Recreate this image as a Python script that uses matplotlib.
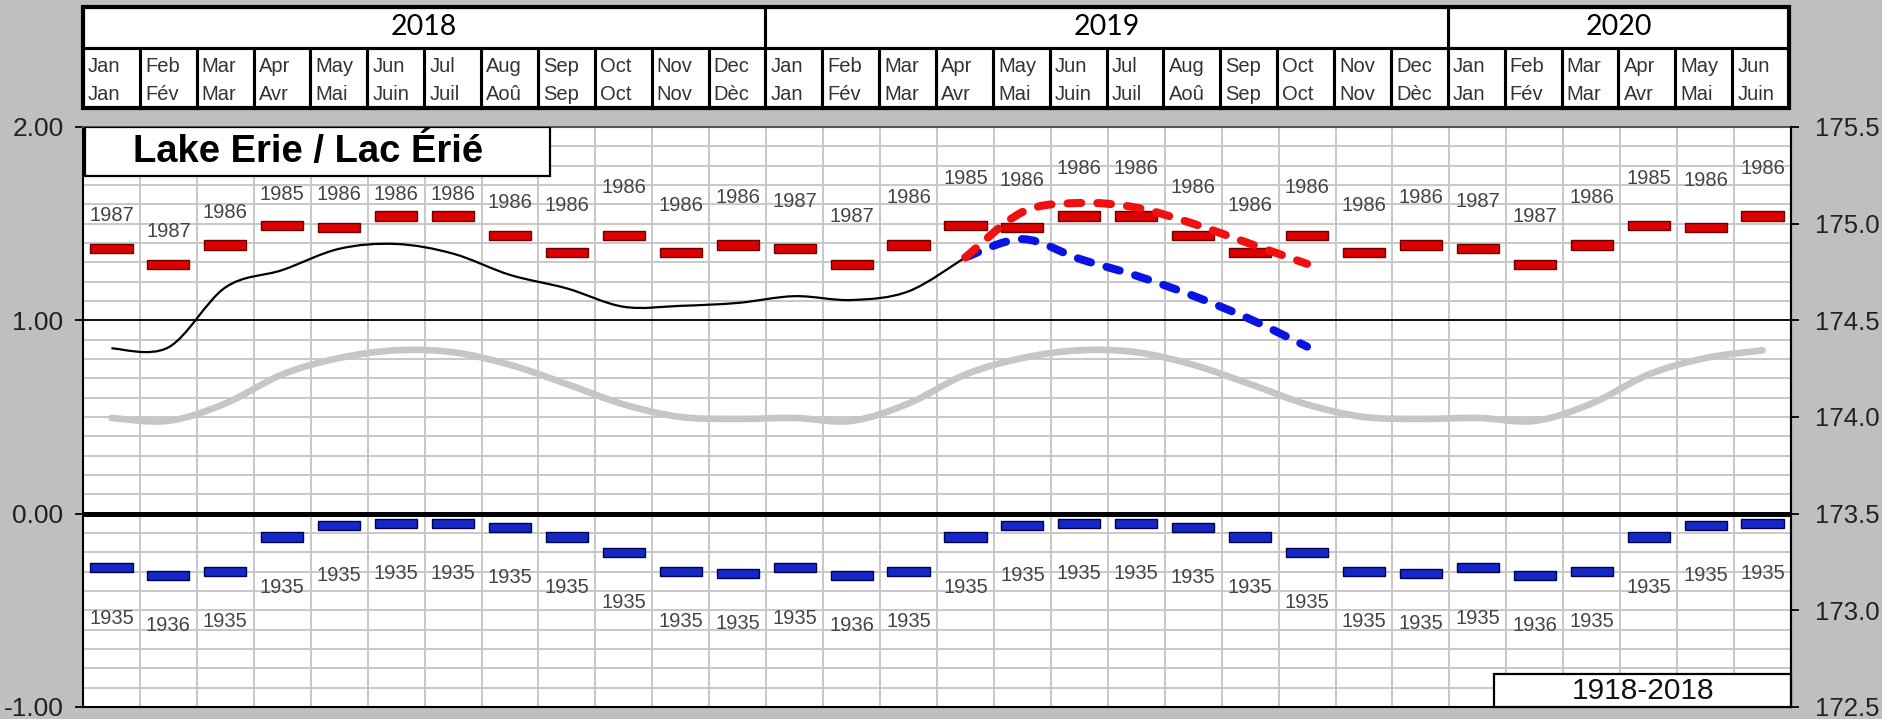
import matplotlib.pyplot as plt
import numpy as np
from matplotlib.path import Path
from matplotlib.patches import PathPatch, Rectangle

plt.rcParams['font.family'] = ['Liberation Sans', 'DejaVu Sans']

months_en = ['Jan', 'Feb', 'Mar', 'Apr', 'May', 'Jun', 'Jul', 'Aug', 'Sep', 'Oct', 'Nov', 'Dec']
months_fr = ['Jan', 'Fév', 'Mar', 'Avr', 'Mai', 'Juin', 'Juil', 'Aoû', 'Sep', 'Oct', 'Nov', 'Dèc']
years = ['2018', '2019', '2020']
year_months = [12, 12, 6]

# period of record 1918-2018, metres relative to chart datum
max_level = [1.37, 1.29, 1.39, 1.49, 1.48, 1.54, 1.54, 1.44, 1.35, 1.44, 1.35, 1.39]
max_year = [1987, 1987, 1986, 1985, 1986, 1986, 1986, 1986, 1986, 1986, 1986, 1986]
min_level = [-0.28, -0.32, -0.30, -0.12, -0.06, -0.05, -0.05, -0.07, -0.12, -0.20, -0.30, -0.31]
min_year = [1935, 1936, 1935, 1935, 1935, 1935, 1935, 1935, 1935, 1935, 1935, 1935]
avg_level = [0.495, 0.48, 0.57, 0.72, 0.805, 0.845, 0.835, 0.77, 0.67, 0.565, 0.50, 0.49]

# recorded monthly levels, Jan 2018 - Apr 2019
recorded = [0.855, 0.86, 1.17, 1.26, 1.37, 1.395, 1.345, 1.235, 1.165, 1.07, 1.075,
            1.09, 1.125, 1.105, 1.15, 1.326]
# forecast range, Apr 2019 - Oct 2019
fc_high = [1.326, 1.56, 1.607, 1.583, 1.50, 1.396, 1.292]
fc_low = [1.326, 1.42, 1.318, 1.231, 1.127, 1.006, 0.864]

n = sum(year_months)
xc = np.arange(n) + 0.5
mi = np.arange(n) % 12


def smooth_path(xs, ys):
    # excel-like smoothed line: catmull-rom segments as cubic beziers
    pts = np.column_stack([xs, ys])
    ext = np.vstack([pts[0], pts, pts[-1]])
    verts = [pts[0]]
    codes = [Path.MOVETO]
    for i in range(len(pts) - 1):
        p0, p1, p2, p3 = ext[i], ext[i + 1], ext[i + 2], ext[i + 3]
        verts += [p1 + (p2 - p0) / 6, p2 - (p3 - p1) / 6, p2]
        codes += [Path.CURVE4] * 3
    return Path(verts, codes)


W, H = 1883, 719
fig = plt.figure(figsize=(W / 100, H / 100), dpi=100, facecolor='#bfbfbf')

L, R, T, B = 83, 1791, 127, 707
ax = fig.add_axes([L / W, 1 - B / H, (R - L) / W, (B - T) / H])
ax.set_xlim(0, n)
ax.set_ylim(-1, 2)
ax.set_facecolor('white')
ax.set_axisbelow(True)

ax.set_xticks(np.arange(n + 1))
ax.set_xticklabels([])
ax.tick_params(axis='x', length=0)
ax.set_yticks([-1, 0, 1, 2])
ax.set_yticklabels(['-1.00', '0.00', '1.00', '2.00'])
ax.set_yticks(np.arange(-10, 21) / 10, minor=True)
ax.tick_params(axis='y', which='major', direction='out', length=6, width=1.3,
               labelsize=19, pad=8, labelcolor='#222222')
ax.tick_params(axis='y', which='minor', length=0)
ax.grid(True, which='both', color='#c8c8c8', lw=1.4)
for s in ['left', 'right', 'bottom']:
    ax.spines[s].set_color('black')
    ax.spines[s].set_linewidth(1.5)
ax.spines['top'].set_color('#555555')
ax.spines['top'].set_linewidth(1.5)

ax.axhline(0, color='black', lw=3.6, zorder=2)
ax.axhline(1, color='black', lw=1.3, zorder=2)

ax2 = ax.twinx()
ax2.set_ylim(172.5, 175.5)
ax2.set_yticks(np.arange(172.5, 175.51, 0.5))
ax2.set_yticklabels(['%.1f' % v for v in np.arange(172.5, 175.51, 0.5)])
ax2.tick_params(axis='y', direction='out', length=6, width=1.3, labelsize=18.5,
                pad=11, labelcolor='#222222')
ax2.spines['right'].set_linewidth(1.5)
for s in ['left', 'top', 'bottom']:
    ax2.spines[s].set_visible(False)

# long-term average
ax.add_patch(PathPatch(smooth_path(xc, np.array(avg_level)[mi]), fill=False,
                       edgecolor='#c6c6c6', lw=4.8, capstyle='round', zorder=3))

# extremes
bar_h = 0.048
hi = np.array(max_level)[mi]
lo = np.array(min_level)[mi]
ax.bar(xc, bar_h, bottom=hi - bar_h / 2, width=0.74, color='#dc0000',
       edgecolor='#6a0000', lw=1.0, zorder=4)
ax.bar(xc, bar_h, bottom=lo - bar_h / 2, width=0.74, color='#1428c8',
       edgecolor='#00004a', lw=1.0, zorder=4)

title_right = 8.2
for i in range(n):
    if xc[i] < title_right:
        ty = min(hi[i] + 0.17, 1.65)
    else:
        ty = hi[i] + 0.245
    ax.text(xc[i], ty, str(max_year[mi[i]]), ha='center', va='center',
            fontsize=14.5, color='#444444', zorder=6)
    ax.text(xc[i], lo[i] - 0.26, str(min_year[mi[i]]), ha='center', va='center',
            fontsize=14.5, color='#444444', zorder=6)

# recorded and forecast
ax.add_patch(PathPatch(smooth_path(xc[:len(recorded)], recorded), fill=False,
                       edgecolor='black', lw=1.6, zorder=5))
x_fc = xc[len(recorded) - 1:len(recorded) - 1 + len(fc_high)]
ax.add_patch(PathPatch(smooth_path(x_fc, fc_low), fill=False, edgecolor='#0a14e0',
                       lw=5.8, linestyle=(0, (1.7, 2.0)), capstyle='round', zorder=5))
ax.add_patch(PathPatch(smooth_path(x_fc, fc_high), fill=False, edgecolor='#f01010',
                       lw=5.8, linestyle=(0, (1.7, 2.0)), capstyle='round', zorder=5))

# title box
ax.add_patch(Rectangle((0.03, 1.745), title_right - 0.03, 0.255, facecolor='white',
                       edgecolor='black', lw=1.6, zorder=7))
ax.text(3.95, 1.872, 'Lake Erie / Lac Érié', ha='center', va='center',
        fontsize=27.5, fontweight='bold', color='black', zorder=8)

# period box
ax.add_patch(Rectangle((24.78, -1.0), n - 24.78, 0.17, facecolor='white',
                       edgecolor='black', lw=1.6, zorder=7, clip_on=False))
ax.text(27.4, -0.918, '1918-2018', ha='center', va='center', fontsize=21.5,
        color='#111111', zorder=8)

# month / year header
HT, HB = 7, 108
hx = fig.add_axes([L / W, 1 - HB / H, (R - 2 - L) / W, (HB - HT) / H])
hx.set_xlim(0, n)
hx.set_ylim(0, 1)
hx.axis('off')
split = 0.594
hx.add_patch(Rectangle((0, 0), n, 1, facecolor='white', edgecolor='none'))
for i in range(n):
    hx.add_patch(Rectangle((i, 0), 1, split, fill=False, edgecolor='black', lw=2.2,
                           clip_on=False))
    hx.text(i + 0.09, 0.41, months_en[mi[i]], ha='left', va='center', fontsize=14.5,
            color='#333333')
    hx.text(i + 0.09, 0.13, months_fr[mi[i]], ha='left', va='center', fontsize=14.5,
            color='#333333')
x0 = 0
for yr, k in zip(years, year_months):
    hx.add_patch(Rectangle((x0, split), k, 1 - split, fill=False, edgecolor='black',
                           lw=2.2, clip_on=False))
    hx.text(x0 + k / 2, 0.80, yr, ha='center', va='center', fontsize=20.5,
            family=['Lato', 'DejaVu Sans'], color='black')
    x0 += k
hx.add_patch(Rectangle((0, 0), n, 1, fill=False, edgecolor='black', lw=3,
                       clip_on=False))

fig.savefig('out.png', dpi=100, facecolor=fig.get_facecolor())
